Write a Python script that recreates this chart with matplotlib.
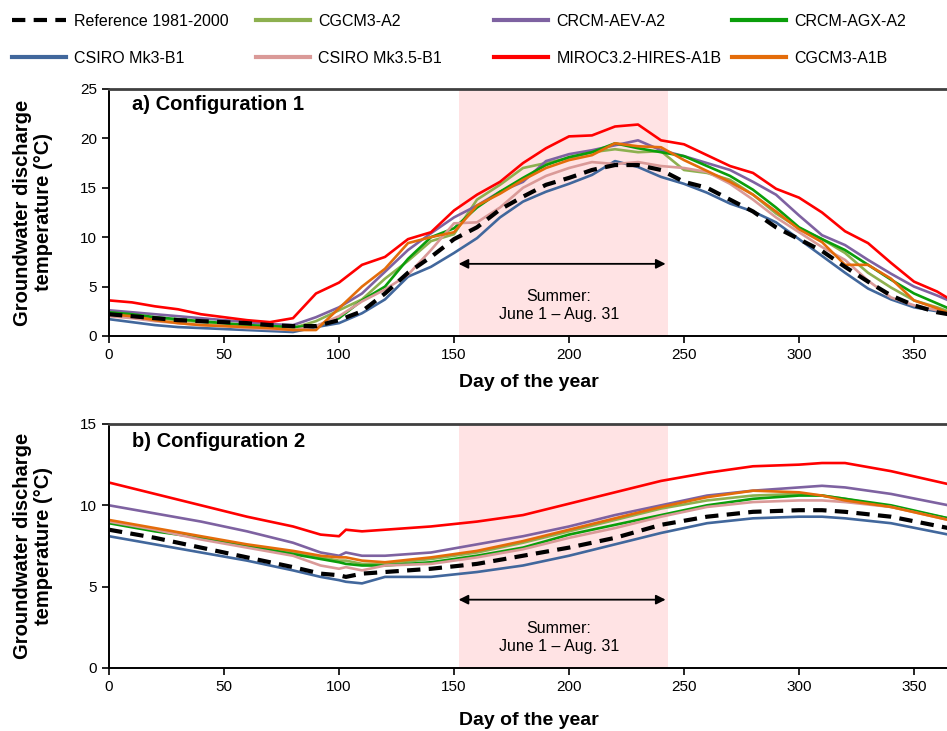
import matplotlib.pyplot as plt
from matplotlib.lines import Line2D

plt.rcParams['font.family'] = ['Liberation Sans', 'DejaVu Sans']

# ---------- data ----------
days_a = list(range(0, 361, 10)) + [365]
days_b = [0, 20, 40, 60, 80, 92, 100, 103, 110, 120, 140, 160, 180, 200,
          220, 240, 260, 280, 300, 310, 320, 340, 365]

labels = ["Reference 1981-2000", "CGCM3-A2", "CRCM-AEV-A2", "CRCM-AGX-A2",
          "CSIRO Mk3-B1", "CSIRO Mk3.5-B1", "MIROC3.2-HIRES-A1B", "CGCM3-A1B"]
colors = ["black", "#8DB04F", "#7E62A1", "#0A9E0A",
          "#41679C", "#DA9A98", "#FF0000", "#E46C0A"]

# panel a: configuration 1
ref_a = [2.2, 2.0, 1.8, 1.6, 1.5, 1.4, 1.3, 1.1, 1.0, 1.0, 1.6, 2.5, 4.3, 6.4, 8.0, 9.8, 11.0, 12.8, 14.1,
         15.3, 16.0, 16.8, 17.3, 17.3, 16.8, 15.6, 15.0, 13.8, 12.6, 11.0, 9.8, 8.6, 7.0, 5.5, 4.1, 3.1, 2.4, 2.2]
cgcm3_a2_a = [2.3, 2.1, 1.8, 1.6, 1.4, 1.2, 1.0, 0.9, 0.8, 1.5, 2.6, 3.7, 5.8, 7.6, 9.6, 10.3, 13.8, 15.3, 17.0,
              17.5, 18.0, 18.6, 18.9, 18.6, 18.7, 16.8, 16.5, 15.8, 14.3, 12.4, 10.9, 9.8, 8.4, 6.4, 4.9, 3.6, 2.9, 2.5]
crcm_aev_a = [2.6, 2.4, 2.2, 2.0, 1.8, 1.6, 1.4, 1.2, 1.1, 1.9, 2.9, 4.3, 6.5, 8.7, 10.4, 12.0, 13.2, 14.6, 15.6,
              17.7, 18.4, 18.8, 19.3, 19.8, 18.8, 18.2, 17.5, 16.8, 15.6, 14.3, 12.2, 10.2, 9.2, 7.7, 6.3, 5.0, 4.1, 3.6]
crcm_agx_a = [2.4, 2.2, 1.9, 1.7, 1.5, 1.3, 1.1, 1.0, 0.9, 1.0, 1.8, 3.6, 5.0, 7.8, 10.0, 10.9, 13.0, 14.6, 16.0,
              17.3, 18.1, 18.6, 19.5, 19.0, 18.6, 18.2, 17.2, 16.2, 14.8, 13.0, 11.0, 9.8, 8.7, 7.2, 5.7, 4.3, 3.3, 2.8]
csiro_mk3_a = [1.7, 1.4, 1.1, 0.9, 0.8, 0.7, 0.6, 0.5, 0.4, 0.9, 1.3, 2.3, 3.7, 6.0, 7.0, 8.4, 9.9, 12.0, 13.6,
               14.6, 15.4, 16.3, 17.7, 17.1, 16.1, 15.4, 14.5, 13.4, 12.6, 11.5, 9.8, 8.1, 6.4, 4.8, 3.7, 2.9, 2.5, 2.2]
csiro_mk35_a = [2.0, 1.8, 1.5, 1.3, 1.1, 1.0, 0.8, 0.7, 0.6, 1.0, 2.0, 3.5, 4.7, 6.2, 8.7, 11.4, 11.5, 13.0, 15.0,
                16.2, 17.0, 17.6, 17.4, 17.6, 17.2, 17.0, 16.6, 15.4, 13.8, 12.0, 10.5, 9.0, 7.7, 5.6, 3.9, 3.1, 2.6, 2.3]
miroc_a = [3.6, 3.4, 3.0, 2.7, 2.2, 1.9, 1.6, 1.4, 1.8, 4.3, 5.4, 7.2, 8.0, 9.8, 10.5, 12.7, 14.3, 15.6, 17.5,
           19.0, 20.2, 20.3, 21.2, 21.4, 19.8, 19.4, 18.3, 17.2, 16.5, 14.9, 14.0, 12.5, 10.6, 9.4, 7.4, 5.5, 4.5, 3.8]
cgcm3_a1b_a = [2.2, 2.0, 1.6, 1.3, 1.1, 1.0, 0.9, 0.8, 0.6, 0.6, 2.8, 5.0, 6.8, 9.4, 10.0, 10.5, 13.2, 14.4, 15.8,
               17.0, 17.8, 18.3, 19.5, 19.2, 19.1, 17.8, 16.7, 15.6, 14.3, 12.6, 10.8, 9.5, 7.2, 7.2, 5.8, 3.6, 2.8, 2.3]

# panel b: configuration 2
ref_b = [8.5, 8.0, 7.4, 6.8, 6.2, 5.8, 5.7, 5.6, 5.8, 5.9, 6.1, 6.4, 6.9, 7.4, 8.0, 8.8, 9.3, 9.6, 9.7, 9.7, 9.6, 9.3, 8.6]
cgcm3_a2_b = [9.0, 8.5, 8.0, 7.5, 7.1, 6.8, 6.6, 6.6, 6.4, 6.4, 6.7, 7.1, 7.7, 8.4, 9.1, 9.8, 10.3, 10.6, 10.7, 10.6, 10.4, 9.9, 9.2]
crcm_aev_b = [10.0, 9.5, 9.0, 8.4, 7.7, 7.1, 6.9, 7.1, 6.9, 6.9, 7.1, 7.6, 8.1, 8.7, 9.4, 10.0, 10.6, 10.9, 11.1, 11.2, 11.1, 10.7, 10.0]
crcm_agx_b = [8.9, 8.4, 8.0, 7.5, 7.0, 6.7, 6.5, 6.4, 6.3, 6.3, 6.5, 6.9, 7.4, 8.2, 8.8, 9.4, 10.0, 10.4, 10.6, 10.6, 10.4, 10.0, 9.2]
csiro_mk3_b = [8.1, 7.6, 7.1, 6.6, 6.0, 5.6, 5.4, 5.3, 5.2, 5.6, 5.6, 5.9, 6.3, 6.9, 7.6, 8.3, 8.9, 9.2, 9.3, 9.3, 9.2, 8.9, 8.2]
csiro_mk35_b = [9.0, 8.5, 7.9, 7.4, 6.9, 6.3, 6.1, 6.2, 6.0, 6.3, 6.4, 6.8, 7.3, 8.0, 8.6, 9.3, 9.9, 10.2, 10.3, 10.3, 10.2, 9.9, 9.1]
miroc_b = [11.4, 10.7, 10.0, 9.3, 8.7, 8.2, 8.1, 8.5, 8.4, 8.5, 8.7, 9.0, 9.4, 10.1, 10.8, 11.5, 12.0, 12.4, 12.5, 12.6, 12.6, 12.1, 11.3]
cgcm3_a1b_b = [9.1, 8.6, 8.1, 7.6, 7.2, 6.9, 6.8, 6.8, 6.6, 6.5, 6.8, 7.2, 7.8, 8.5, 9.2, 9.9, 10.5, 10.9, 10.8, 10.6, 10.3, 9.9, 9.1]

series_a = [ref_a, cgcm3_a2_a, crcm_aev_a, crcm_agx_a, csiro_mk3_a, csiro_mk35_a, miroc_a, cgcm3_a1b_a]
series_b = [ref_b, cgcm3_a2_b, crcm_aev_b, crcm_agx_b, csiro_mk3_b, csiro_mk35_b, miroc_b, cgcm3_a1b_b]

summer_start, summer_end = 152, 243

# ---------- figure ----------
fig = plt.figure(figsize=(9.47, 7.31), dpi=100)
ax_a = fig.add_axes([0.1151, 0.5404, 0.8865, 0.3379])
ax_b = fig.add_axes([0.1151, 0.0862, 0.8865, 0.3338])


def draw_panel(ax, days, series, ymax, yticks, title, arrow_y, text_y, title_y, xlabel_pad):
    ax.axvspan(summer_start, summer_end, color="#FFE3E4", lw=0, zorder=0)
    for i in range(1, len(series)):
        ax.plot(days, series[i], color=colors[i], lw=1.9, zorder=2)
    ax.plot(days, series[0], color="black", lw=3.0, ls=(0, (3.2, 2.0)), zorder=3)

    ax.annotate("", xy=(summer_start, arrow_y), xytext=(summer_end - 1, arrow_y),
                arrowprops=dict(arrowstyle="<|-|>", color="black", lw=1.3,
                                mutation_scale=14, shrinkA=0, shrinkB=0))
    ax.text((summer_start + summer_end) / 2 - 2, text_y, "Summer:\nJune 1 \u2013 Aug. 31",
            ha="center", va="center", fontsize=11.5, linespacing=1.25)
    ax.text(0.0274, title_y, title, transform=ax.transAxes, ha="left", va="center",
            fontsize=14.5, fontweight="bold")

    ax.set_xlim(0, 365)
    ax.set_ylim(0, ymax)
    ax.set_xticks(range(0, 351, 50))
    ax.set_yticks(yticks)
    ax.tick_params(direction="out", length=5, width=1.2, labelsize=11, color="black")
    ax.set_xlabel("Day of the year", fontsize=14, fontweight="bold", labelpad=xlabel_pad)

    ax.spines["right"].set_visible(False)
    ax.spines["top"].set_color("#404040")
    ax.spines["top"].set_linewidth(2.0)
    for side in ("left", "bottom"):
        ax.spines[side].set_color("black")
        ax.spines[side].set_linewidth(1.4)


draw_panel(ax_a, days_a, series_a, 25, range(0, 26, 5), "a) Configuration 1", 7.3, 3.1, 0.939, 9)
draw_panel(ax_b, days_b, series_b, 15, range(0, 16, 5), "b) Configuration 2", 4.2, 1.87, 0.930, 13)

for ax in (ax_a, ax_b):
    pos = ax.get_position()
    fig.text(33 / 947, (pos.y0 + pos.y1) / 2, "Groundwater discharge\ntemperature (\u00b0C)",
             rotation=90, ha="center", va="center", fontsize=14.5, fontweight="bold",
             linespacing=1.15)

# ---------- legend: 4 columns of 2 rows ----------
handles = []
for i in range(len(labels)):
    if i == 0:
        handles.append(Line2D([], [], color="black", lw=3.0, ls=(0, (3.2, 2.0))))
    else:
        handles.append(Line2D([], [], color=colors[i], lw=3.0))

col_x = [12, 256, 494, 732]
for c in range(4):
    idx = [c, c + 4]
    fig.legend([handles[j] for j in idx], [labels[j] for j in idx],
               loc="upper left", bbox_to_anchor=(col_x[c] / 947, 1 - 14 / 731),
               frameon=False, fontsize=11.5, handlelength=3.4, handletextpad=0.5,
               labelspacing=1.35, borderpad=0, borderaxespad=0)

fig.savefig("out.png", dpi=100)
